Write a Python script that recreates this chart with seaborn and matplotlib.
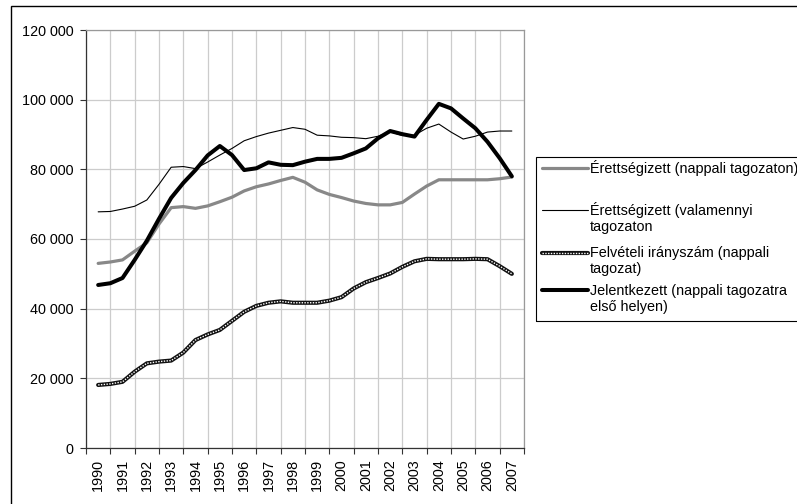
import numpy as np
import pandas as pd
import matplotlib
matplotlib.use("Agg")
import matplotlib.pyplot as plt
import seaborn as sns
from matplotlib.lines import Line2D
from matplotlib.patches import Rectangle
from matplotlib.ticker import FuncFormatter, MultipleLocator, FixedLocator

# ── Data (every half year) ───────────────────────────────────────
years = list(range(1990, 2008))
t = [1990 + 0.5 * i for i in range(35)]

erettsegi_nappali = [53000, 53400, 54000, 56500, 58900, 64300, 69000, 69300, 68800, 69500,
                     70700, 72000, 73800, 75000, 75800, 76800, 77700, 76300, 74100, 72800,
                     71900, 70900, 70200, 69800, 69800, 70500, 72900, 75200, 77000, 77000,
                     77000, 77000, 77000, 77300, 77800]
erettsegi_osszes = [67800, 67900, 68600, 69400, 71200, 75700, 80600, 80800, 80200, 82100,
                    84100, 86000, 88200, 89400, 90400, 91200, 92000, 91500, 89800, 89600,
                    89200, 89100, 88800, 89500, 90800, 89700, 89800, 91800, 93000, 90700,
                    88700, 89500, 90700, 91000, 91000]
felveteli = [18100, 18400, 19000, 21900, 24300, 24800, 25100, 27400, 31000, 32600,
             33900, 36500, 39100, 40800, 41700, 42100, 41700, 41700, 41700, 42300,
             43300, 45800, 47600, 48800, 50100, 52000, 53600, 54300, 54200, 54200,
             54200, 54300, 54200, 52200, 50000]
jelentkezett = [46800, 47300, 48800, 54000, 59500, 65800, 71800, 76100, 79800, 84000,
                86700, 84100, 79800, 80300, 82000, 81300, 81200, 82200, 83000, 83000,
                83300, 84600, 86000, 88900, 91000, 90100, 89400, 94200, 98800, 97500,
                94600, 91800, 87900, 83200, 78000]

labels = ["Érettségizett (nappali tagozaton)",
          "Érettségizett (valamennyi\ntagozaton",
          "Felvételi irányszám (nappali\ntagozat)",
          "Jelentkezett (nappali tagozatra\nelső helyen)"]

df = pd.DataFrame({"t": t, "nappali": erettsegi_nappali, "osszes": erettsegi_osszes,
                   "felveteli": felveteli, "jelentkezett": jelentkezett})

sns.set_style("white")
plt.rcParams["font.family"] = ["Liberation Sans", "DejaVu Sans"]
FS = 10.4
plt.rcParams["font.size"] = FS

W, H = 797, 504
fig = plt.figure(figsize=(W / 100, H / 100), dpi=100)
ax = fig.add_axes([86 / W, 1 - 448 / H, (524 - 86) / W, (448 - 30) / H])

GRAY = "#888888"

# ── Series ────────────────────────────────────────────────────────
line_kw = dict(solid_joinstyle="round", solid_capstyle="round")
sns.lineplot(data=df, x="t", y="nappali", ax=ax, color=GRAY, lw=2.3, zorder=3, **line_kw)
sns.lineplot(data=df, x="t", y="osszes", ax=ax, color="black", lw=0.8, zorder=4, **line_kw)
sns.lineplot(data=df, x="t", y="felveteli", ax=ax, color="#111111", lw=3.0, zorder=5, **line_kw)
sns.lineplot(data=df, x="t", y="felveteli", ax=ax, color="white", lw=1.0,
             linestyle=(0, (1, 1)), zorder=6)
sns.lineplot(data=df, x="t", y="jelentkezett", ax=ax, color="black", lw=2.9, zorder=7, **line_kw)

# ── Axes ──────────────────────────────────────────────────────────
ax.set_xlim(1989.5, 2007.5)
ax.set_ylim(0, 120000)
ax.set_xlabel("")
ax.set_ylabel("")

ax.xaxis.set_major_locator(FixedLocator(years))
ax.set_xticklabels([str(y) for y in years], rotation=90)
ax.xaxis.set_minor_locator(FixedLocator([y - 0.5 for y in years] + [2007.5]))
ax.tick_params(axis="x", which="major", length=0, pad=8, labelsize=FS, colors="black")
ax.tick_params(axis="x", which="minor", length=4, width=0.8, color="#333333",
               direction="out", bottom=True)

ax.yaxis.set_major_locator(MultipleLocator(20000))
ax.yaxis.set_major_formatter(FuncFormatter(lambda v, p: f"{int(v):,}".replace(",", " ")))
ax.tick_params(axis="y", which="major", length=4, width=0.8, color="#333333",
               direction="out", left=True, pad=5, labelsize=FS, labelcolor="black")

ax.grid(True, axis="y", which="major", color="#cccccc", lw=0.9)
ax.grid(True, axis="x", which="minor", color="#cccccc", lw=0.9)
ax.grid(False, axis="x", which="major")
ax.set_axisbelow(True)

for side in ["left", "bottom"]:
    ax.spines[side].set_color("#333333")
    ax.spines[side].set_linewidth(0.9)
for side in ["top", "right"]:
    ax.spines[side].set_color("#999999")
    ax.spines[side].set_linewidth(0.9)

# ── Outer chart border ────────────────────────────────────────────
fig.patches.append(Rectangle((10.5 / W, -0.1), 1.2, 1.1 - 6.5 / H, transform=fig.transFigure,
                             fill=False, edgecolor="black", lw=1.0))

# ── Legend (drawn by hand to match the layout) ───────────────────
fig.patches.append(Rectangle((536 / W, 1 - 320.7 / H), 0.6, (320.7 - 156.7) / H,
                             transform=fig.transFigure, fill=False, edgecolor="black", lw=0.8))

def fy(py):
    return 1 - py / H

hx = [541.7 / W, 588.3 / W]
handle_rows = [168.3, 210, 252.7, 290]
handle_styles = [
    [dict(color=GRAY, lw=2.3)],
    [dict(color="black", lw=0.8)],
    [dict(color="#111111", lw=3.0), dict(color="white", lw=1.0, linestyle=(0, (1, 1)))],
    [dict(color="black", lw=2.9)],
]
for py, styles in zip(handle_rows, handle_styles):
    for st in styles:
        fig.lines.append(Line2D(hx, [fy(py), fy(py)], transform=fig.transFigure, **st))

text_rows = [[168.3], [210, 226.7], [252.7, 268.8], [291.0, 307.3]]
for lab, rows in zip(labels, text_rows):
    for line, py in zip(lab.split("\n"), rows):
        fig.text(590 / W, fy(py), line, ha="left", va="center", fontsize=FS, color="black")

fig.savefig("out.png", dpi=100)
